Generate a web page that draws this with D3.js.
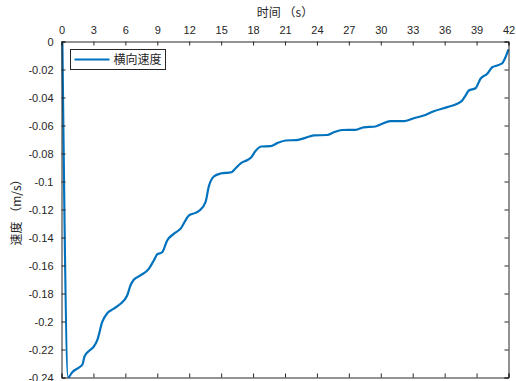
<!DOCTYPE html>
<html>
<head>
<meta charset="utf-8">
<script src="https://cdn.jsdelivr.net/npm/d3@7/dist/d3.min.js"></script>
<style>
  html, body { margin: 0; padding: 0; background: #fff; }
  svg { display: block; }
  text { font-family: "Liberation Sans", Arial, "Noto Sans CJK SC", sans-serif; fill: #262626; }
  .cjk { font-family: "Noto Sans CJK SC", "Liberation Sans", sans-serif; }
</style>
</head>
<body>
<svg id="chart" width="516" height="381"></svg>
<script>
// Time (s) and lateral velocity (m/s) samples
const timeS = [0.08, 0.63, 1.01, 1.63, 1.97, 2.16, 2.58, 3.03, 3.38, 3.82, 4.32, 4.79, 5.45, 6.17, 6.48,
  6.81, 7.42, 8.20, 8.67, 8.99, 9.46, 9.93, 10.55, 11.18, 11.96, 12.59, 12.97, 13.53, 13.84, 14.31,
  14.94, 15.97, 16.26, 16.87, 17.48, 17.81, 18.23, 18.79, 19.64, 20.27, 21.05, 22.08, 22.93, 23.71,
  24.96, 25.59, 26.37, 27.62, 28.40, 29.50, 29.97, 30.91, 32.16, 33.10, 34.04, 34.98, 36.24, 37.18,
  37.65, 37.96, 38.27, 38.90, 39.37, 40.00, 40.47, 40.94, 41.41, 41.72, 42.0];
const lateralVelocity = [0, -0.2400, -0.2362, -0.2329, -0.2307, -0.2250, -0.2211, -0.2179, -0.2129,
  -0.2005, -0.1939, -0.1914, -0.1879, -0.1814, -0.1743, -0.1700, -0.1671, -0.1624, -0.1564, -0.1521,
  -0.1505, -0.1421, -0.1374, -0.1338, -0.1243, -0.1224, -0.1207, -0.1148, -0.1036, -0.0964, -0.0943,
  -0.0934, -0.0914, -0.0868, -0.0846, -0.0829, -0.0782, -0.0750, -0.0748, -0.0726, -0.0707, -0.0704,
  -0.0688, -0.0671, -0.0668, -0.0648, -0.0632, -0.0631, -0.0613, -0.0607, -0.0593, -0.0569, -0.0569,
  -0.0548, -0.0529, -0.0498, -0.0469, -0.0445, -0.0421, -0.0386, -0.0350, -0.0334, -0.0266, -0.0231,
  -0.0184, -0.0171, -0.0155, -0.0112, -0.0057];
const xTicks = [0, 3, 6, 9, 12, 15, 18, 21, 24, 27, 30, 33, 36, 39, 42];
const yTicks = [0, -0.02, -0.04, -0.06, -0.08, -0.1, -0.12, -0.14, -0.16, -0.18, -0.2, -0.22, -0.24];
const seriesName = "横向速度";
const xTitle = "时间 （s）";
const yTitle = "速度 （m/s）";

const svg = d3.select("#chart");
const plotLeft = 61.5, plotRight = 508.5, plotTop = 41.5, plotBottom = 377.5;

const x = d3.scaleLinear().domain([0, 42]).range([plotLeft, plotRight]);
const y = d3.scaleLinear().domain([-0.24, 0]).range([plotBottom, plotTop]);

const axisColor = "#262626";
const tickLen = 4;
const fmtY = d => d === 0 ? "0" : String(d);

// Top axis carries the labels; bottom and right only repeat the ticks
const topAxis = d3.axisTop(x).tickValues(xTicks).tickSize(-tickLen).tickPadding(8).tickFormat(d => d);
const bottomAxis = d3.axisBottom(x).tickValues(xTicks).tickSize(-tickLen).tickFormat("");
const leftAxis = d3.axisLeft(y).tickValues(yTicks).tickSize(-tickLen).tickPadding(8).tickFormat(fmtY);
const rightAxis = d3.axisRight(y).tickValues(yTicks).tickSize(-tickLen).tickFormat("");

function styleAxis(g) {
  g.select(".domain").attr("stroke", axisColor).attr("stroke-width", 1);
  g.selectAll(".tick line").attr("stroke", axisColor).attr("stroke-width", 1);
  g.selectAll(".tick text").attr("fill", axisColor).style("font-size", "11px")
    .style("font-family", "'Liberation Sans', Arial, sans-serif");
}

// Data line (drawn before axes so the frame sits on top)
const line = d3.line()
  .x((d, i) => x(timeS[i]))
  .y(d => y(d))
  .curve(d3.curveMonotoneX);

svg.append("defs").append("clipPath").attr("id", "plotClip")
  .append("rect").attr("x", plotLeft - 1).attr("y", plotTop - 1)
  .attr("width", plotRight - plotLeft + 2).attr("height", plotBottom - plotTop + 2);

svg.append("path")
  .datum(lateralVelocity)
  .attr("clip-path", "url(#plotClip)")
  .attr("d", line)
  .attr("fill", "none")
  .attr("stroke", "#0072BD")
  .attr("stroke-width", 2.2)
  .attr("stroke-linejoin", "round");

svg.append("g").attr("transform", `translate(0,${plotTop})`).call(topAxis).call(styleAxis);
svg.append("g").attr("transform", `translate(0,${plotBottom})`).call(bottomAxis).call(styleAxis);
svg.append("g").attr("transform", `translate(${plotLeft},0)`).call(leftAxis).call(styleAxis);
svg.append("g").attr("transform", `translate(${plotRight},0)`).call(rightAxis).call(styleAxis);

// Axis titles
svg.append("text").attr("class", "cjk")
  .attr("x", (plotLeft + plotRight) / 2).attr("y", 17)
  .attr("text-anchor", "middle").style("font-size", "12px")
  .text(xTitle);

svg.append("text").attr("class", "cjk")
  .attr("transform", `translate(21,${(plotTop + plotBottom) / 2}) rotate(-90)`)
  .attr("text-anchor", "middle").style("font-size", "12px")
  .text(yTitle);

// Legend
const lg = svg.append("g").attr("transform", "translate(70.5,49.5)");
lg.append("rect").attr("width", 95).attr("height", 20)
  .attr("fill", "#fff").attr("stroke", axisColor).attr("stroke-width", 1);
lg.append("line").attr("x1", 4).attr("x2", 39).attr("y1", 10).attr("y2", 10)
  .attr("stroke", "#0072BD").attr("stroke-width", 2.2);
lg.append("text").attr("class", "cjk")
  .attr("x", 43).attr("y", 14.5).style("font-size", "12px")
  .text(seriesName);
</script>
</body>
</html>
